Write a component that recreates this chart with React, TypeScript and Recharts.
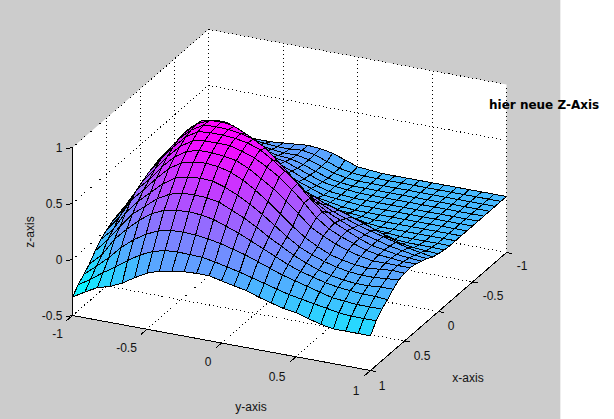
import React from "react";
import { ScatterChart, Scatter, XAxis, YAxis } from "recharts";

const xTicks = [-1, -0.5, 0, 0.5, 1];
const yTicks = [-1, -0.5, 0, 0.5, 1];
const zTicks = [-0.5, 0, 0.5, 1];
const yLabelDx = [-15, -20.5, -13.5, -19, -14.5];
const yLabelDy = [18.5, 19, 19, 20, 20];
const xLabelDx = [15.5, 20.5, 12.5, 17.5, 11.5];
const xLabelDy = [13.5, 14, 14, 15, 15];
const xGrid = [-1,-0.917,-0.833,-0.75,-0.667,-0.583,-0.5,-0.417,-0.333,-0.25,-0.167,-0.083,0,0.083,0.167,0.25,0.333,0.417,0.5,0.583,0.667,0.75,0.833,0.917,1];
const yGrid = xGrid;

const zRows = [
[.15,.13,.11,.10,.10,.10,.11,.12,.13,.12,.10,.06,.02,.01,0,0,0,0,0,0,0,0,0,0,0],
[.17,.18,.17,.16,.14,.13,.12,.12,.13,.11,.07,.03,.01,0,0,0,0,0,0,0,0,0,0,0,0],
[.20,.24,.25,.24,.20,.16,.14,.13,.13,.11,.07,.03,.01,0,0,0,0,0,0,0,0,0,0,0,0],
[.22,.29,.31,.30,.26,.21,.17,.15,.14,.11,.07,.03,.01,0,0,0,0,0,0,0,0,0,0,0,0],
[.23,.33,.37,.36,.32,.26,.21,.18,.16,.12,.08,.04,.02,.01,0,0,0,0,0,0,0,0,0,0,0],
[.23,.35,.41,.42,.39,.32,.26,.22,.18,.14,.09,.05,.02,.01,0,0,0,0,0,0,0,0,0,0,0],
[.23,.36,.44,.48,.45,.38,.31,.26,.21,.16,.11,.07,.03,.02,.01,0,0,0,0,0,0,0,0,0,0],
[.22,.36,.46,.52,.51,.45,.37,.31,.25,.19,.13,.08,.05,.03,.01,0,0,0,0,0,0,0,0,0,0],
[.21,.35,.47,.55,.57,.53,.46,.37,.29,.23,.16,.11,.07,.04,.03,.02,.01,0,0,0,0,0,0,0,0],
[.20,.34,.47,.57,.62,.62,.55,.46,.36,.29,.22,.16,.12,.10,.08,.06,.03,.01,0,0,0,0,0,0,0],
[.18,.33,.47,.58,.67,.70,.66,.58,.47,.39,.30,.25,.22,.20,.17,.14,.10,.06,.02,.01,0,0,0,0,0],
[.16,.32,.47,.59,.71,.77,.76,.70,.60,.52,.42,.36,.31,.28,.24,.20,.17,.13,.09,.05,.02,.01,.01,.01,.005],
[.14,.30,.47,.59,.73,.82,.84,.84,.78,.70,.60,.50,.42,.37,.32,.27,.24,.20,.16,.12,.08,.045,.03,.02,.016],
[.11,.27,.46,.59,.73,.83,.88,.89,.87,.82,.76,.67,.55,.46,.38,.32,.27,.23,.19,.16,.13,.10,.07,.05,.03],
[.09,.25,.44,.58,.72,.82,.885,.89,.885,.87,.84,.78,.68,.58,.48,.38,.31,.26,.21,.17,.14,.11,.09,.07,.06],
[.06,.22,.42,.56,.69,.80,.87,.88,.88,.87,.85,.81,.74,.66,.57,.46,.36,.28,.23,.18,.14,.12,.10,.09,.08],
[.05,.20,.39,.52,.65,.76,.83,.85,.853,.85,.82,.78,.72,.65,.56,.46,.35,.27,.22,.18,.14,.12,.11,.10,.10],
[.03,.17,.36,.47,.60,.71,.78,.81,.81,.80,.78,.73,.66,.59,.50,.41,.31,.25,.20,.16,.13,.11,.11,.11,.11],
[0,.13,.31,.42,.54,.65,.72,.75,.76,.75,.72,.67,.60,.52,.43,.34,.26,.20,.15,.12,.10,.09,.10,.11,.105],
[-.04,.07,.24,.36,.46,.56,.63,.66,.67,.665,.63,.58,.52,.45,.37,.29,.22,.17,.13,.10,.08,.07,.07,.08,.09],
[-.10,.02,.16,.29,.38,.47,.53,.56,.565,.56,.54,.49,.44,.38,.31,.25,.19,.14,.10,.07,.05,.04,.04,.05,.05],
[-.17,-.07,.09,.20,.30,.38,.43,.45,.458,.45,.43,.39,.35,.30,.25,.20,.15,.11,.08,.05,.03,.02,.01,.01,0],
[-.22,-.13,-.03,.08,.17,.24,.29,.315,.32,.315,.30,.28,.25,.22,.18,.14,.10,.07,.04,.01,-.02,-.03,-.04,-.04,-.04],
[-.27,-.20,-.12,-.05,.03,.10,.15,.18,.187,.185,.18,.16,.135,.11,.08,.05,.02,-.01,-.03,-.05,-.07,-.09,-.10,-.10,-.10],
[-.335,-.27,-.21,-.18,-.13,-.06,0,.04,.06,.075,.08,.08,.055,.03,.01,-.03,-.06,-.09,-.105,-.14,-.17,-.19,-.19,-.19,-.19],
];

const zMin = -0.335;
const zMax = 0.89;
const font = '"Liberation Sans", Arial, sans-serif';

type P3 = [number, number, number];
const project = ([x, y, z]: P3) => ({
  sx: 289.5 - 68 * x + 149 * y,
  sy: 228 + 59 * x + 27.5 * y - 112 * z,
});
const cool = (z: number) => {
  const t = Math.max(0, Math.min(1, (z - zMin) / (zMax - zMin)));
  return `rgb(${Math.round(255 * t)},${Math.round(255 * (1 - t))},255)`;
};

const quadPoints: { sx: number; sy: number }[] = [];
const quadColors: string[] = [];
for (let i = 0; i < xGrid.length - 1; i++) {
  for (let j = 0; j < yGrid.length - 1; j++) {
    const a = zRows[i][j], b = zRows[i][j + 1], c = zRows[i + 1][j + 1], d = zRows[i + 1][j];
    quadPoints.push(
      project([xGrid[i], yGrid[j], a]),
      project([xGrid[i], yGrid[j + 1], b]),
      project([xGrid[i + 1], yGrid[j + 1], c]),
      project([xGrid[i + 1], yGrid[j], d])
    );
    quadColors.push(cool((a + b + c + d) / 4));
  }
}

const wallPoints = ([
  [1, -1, -0.5], [1, -1, 1], [-1, -1, 1], [-1, 1, 1], [-1, 1, -0.5], [1, 1, -0.5],
] as P3[]).map(project);

const dotted: { sx: number; sy: number }[] = [];
const seg3 = (arr: any[], a: P3, b: P3) => arr.push(project(a), project(b));
for (const t of xTicks) {
  seg3(dotted, [t, -1, -0.5], [t, 1, -0.5]);
  seg3(dotted, [t, -1, -0.5], [t, -1, 1]);
}
for (const t of yTicks) {
  seg3(dotted, [-1, t, -0.5], [1, t, -0.5]);
  seg3(dotted, [-1, t, -0.5], [-1, t, 1]);
}
for (const t of zTicks) {
  seg3(dotted, [1, -1, t], [-1, -1, t]);
  seg3(dotted, [-1, -1, t], [-1, 1, t]);
}

const solid: { sx: number; sy: number }[] = [];
seg3(solid, [1, -1, -0.5], [1, -1, 1]);
seg3(solid, [1, -1, -0.5], [1, 1, -0.5]);
seg3(solid, [1, 1, -0.5], [-1, 1, -0.5]);
for (const t of zTicks) seg3(solid, [1, -1, t], [1.09, -1.0, t + 0.036]);
for (const t of yTicks) seg3(solid, [1, t, -0.5], [1.09, t, -0.5]);
for (const t of xTicks) seg3(solid, [t, 1, -0.5], [t, 1.04, -0.5]);

const withOffset = (p3: P3, dx: number, dy: number, label: string, anchor = "middle") => {
  const p = project(p3);
  return { sx: p.sx + dx, sy: p.sy + dy, label, anchor };
};
const labelList = [
  ...zTicks.map((t) => withOffset([1, -1, t], -10, 0, String(t), "end")),
  ...yTicks.map((t, i) => withOffset([1, t, -0.5], yLabelDx[i], yLabelDy[i], String(t))),
  ...xTicks.map((t, i) => withOffset([t, 1, -0.5], xLabelDx[i], xLabelDy[i], String(t))),
];
const titleList = [
  { sx: 251, sy: 407, label: "y-axis", rotate: 0 },
  { sx: 468, sy: 378, label: "x-axis", rotate: 0 },
  { sx: 30, sy: 232, label: "z-axis", rotate: -90 },
];
const noteList = [{ sx: 489, sy: 105, label: "hier neue Z-Axis" }];

const chunk = (arr: any[], n: number) => {
  const out: any[][] = [];
  for (let i = 0; i + n <= arr.length; i += n) out.push(arr.slice(i, i + n));
  return out;
};
const pts = (a: any[]) => a.map((p) => `${p.x},${p.y}`).join(" ");

const drawQuads = (p: any) => (
  <g>
    {chunk(p.points, 4).map((q, k) => (
      <polygon key={k} points={pts(q)} fill={quadColors[k]} stroke="#000" strokeWidth={1} strokeLinejoin="round" shapeRendering="crispEdges" />
    ))}
  </g>
);
const drawWall = (p: any) => <polygon points={pts(p.points)} fill="#fff" stroke="none" />;
const drawDotted = (p: any) => (
  <g>
    {chunk(p.points, 2).map((s, k) => (
      <line key={k} x1={s[0].x} y1={s[0].y} x2={s[1].x} y2={s[1].y} stroke="#000" strokeWidth={1} strokeDasharray="1 3" shapeRendering="crispEdges" />
    ))}
  </g>
);
const drawSolid = (p: any) => (
  <g>
    {chunk(p.points, 2).map((s, k) => (
      <line key={k} x1={s[0].x} y1={s[0].y} x2={s[1].x} y2={s[1].y} stroke="#000" strokeWidth={1} shapeRendering="crispEdges" />
    ))}
  </g>
);
const noMark = () => <g />;
const tickText = (p: any) => (
  <text x={p.cx} y={p.cy} textAnchor={p.payload.anchor} dominantBaseline="central" fontFamily={font} fontSize={12} fill="#111">
    {p.payload.label}
  </text>
);
const titleText = (p: any) => (
  <text
    x={p.cx}
    y={p.cy}
    textAnchor="middle"
    dominantBaseline="central"
    fontFamily={font}
    fontSize={12}
    fill="#111"
    transform={p.payload.rotate ? `rotate(${p.payload.rotate} ${p.cx} ${p.cy})` : undefined}
  >
    {p.payload.label}
  </text>
);
const noteText = (p: any) => (
  <text x={p.cx} y={p.cy} textAnchor="start" dominantBaseline="central" fontFamily='"DejaVu Sans", sans-serif' fontWeight="bold" fontSize={12} fill="#000">
    {p.payload.label}
  </text>
);

export default function App() {
  return (
    <div style={{ position: "fixed", left: 0, top: 0, width: 614, height: 419, background: "#fff", overflow: "hidden" }}>
      <div style={{ position: "absolute", left: 0, top: 0, width: 560, height: 419, background: "#cccccc", borderRight: "1px solid #eeeeee" }} />
      <div style={{ position: "absolute", left: 0, top: 0 }}>
        <ScatterChart width={614} height={419} margin={{ top: 0, right: 0, bottom: 0, left: 0 }}>
          <XAxis type="number" dataKey="sx" domain={[0, 614]} hide allowDataOverflow />
          <YAxis type="number" dataKey="sy" domain={[0, 419]} reversed hide allowDataOverflow />
          <Scatter data={wallPoints} line={drawWall} shape={noMark} isAnimationActive={false} />
          <Scatter data={dotted} line={drawDotted} shape={noMark} isAnimationActive={false} />
          <Scatter data={solid} line={drawSolid} shape={noMark} isAnimationActive={false} />
          <Scatter data={quadPoints} line={drawQuads} shape={noMark} isAnimationActive={false} />
          <Scatter data={labelList} shape={tickText} isAnimationActive={false} />
          <Scatter data={titleList} shape={titleText} isAnimationActive={false} />
          <Scatter data={noteList} shape={noteText} isAnimationActive={false} />
        </ScatterChart>
      </div>
    </div>
  );
}
